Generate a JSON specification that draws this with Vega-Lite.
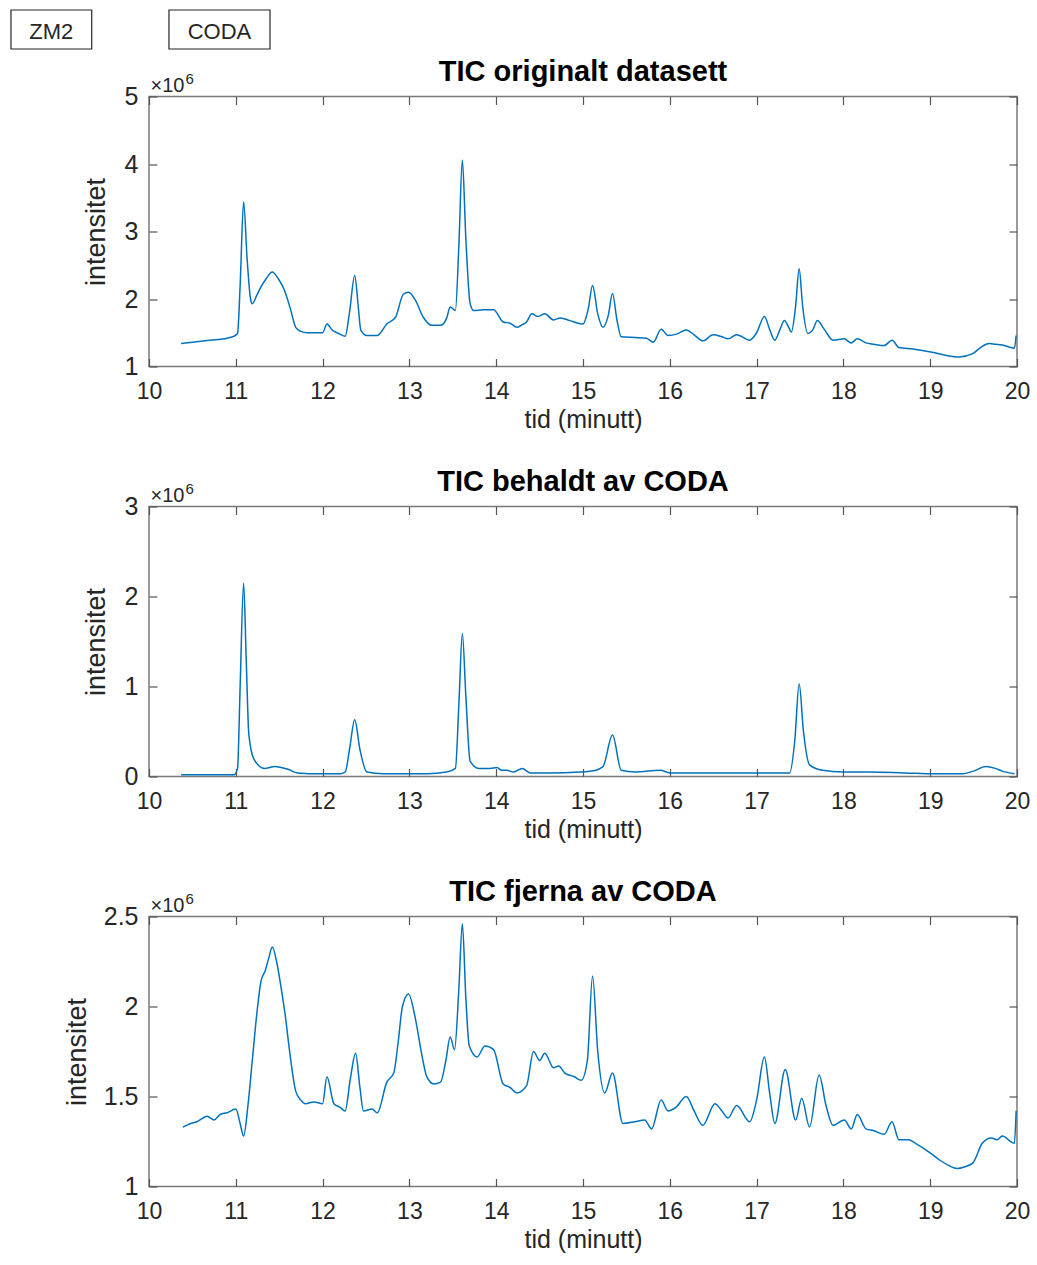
{
  "$schema": "https://vega.github.io/schema/vega-lite/v6.json",
  "background": "white",
  "padding": {"left": 10, "top": 9, "right": 5, "bottom": 5},
  "config": {
    "font": "Liberation Sans",
    "view": {"stroke": "#7a7a7a", "strokeWidth": 1.5},
    "axis": {"domain": false, "grid": false, "tickSize": -8, "tickColor": "#555555", "tickWidth": 1.2,
      "labelColor": "#262626", "titleFontWeight": "normal", "titleColor": "#262626", "labelFont": "Liberation Sans", "titleFont": "Liberation Sans"},
    "axisX": {"labelFontSize": 23, "titleFontSize": 25, "labelPadding": 22, "titlePadding": 4, "labelFlush": false},
    "axisY": {"labelFontSize": 25, "titleFontSize": 27, "labelPadding": 19, "titleX": -53, "titleBaseline": "middle"},
    "title": {"fontSize": 29, "fontWeight": "bold", "color": "#000000", "baseline": "alphabetic", "offset": -15, "font": "Liberation Sans"},
    "line": {"color": "#0072BD", "strokeWidth": 1.5, "interpolate": "monotone"}
  },
  "datasets": {
    "boxes": [
      {"label": "ZM2", "x1": 8.41, "x2": 9.34, "xc": 8.875},
      {"label": "CODA", "x1": 10.23, "x2": 11.394, "xc": 10.812}
    ],
    "orig": [
      {"t":10.37,"i":1.34},{"t":10.5,"i":1.36},{"t":10.7,"i":1.39},{"t":10.9,"i":1.42},{"t":10.98,"i":1.45},{"t":11.02,"i":1.49},{"t":11.05,"i":2.2},{"t":11.09,"i":3.44},{"t":11.13,"i":2.6},{"t":11.17,"i":2.0},{"t":11.19,"i":1.93},{"t":11.24,"i":2.05},{"t":11.29,"i":2.18},{"t":11.35,"i":2.3},{"t":11.42,"i":2.4},{"t":11.49,"i":2.3},{"t":11.56,"i":2.13},{"t":11.63,"i":1.85},{"t":11.69,"i":1.58},{"t":11.75,"i":1.52},{"t":11.82,"i":1.5},{"t":12.0,"i":1.5},{"t":12.05,"i":1.63},{"t":12.11,"i":1.54},{"t":12.2,"i":1.48},{"t":12.26,"i":1.45},{"t":12.31,"i":1.8},{"t":12.37,"i":2.35},{"t":12.41,"i":1.9},{"t":12.44,"i":1.54},{"t":12.51,"i":1.46},{"t":12.63,"i":1.46},{"t":12.74,"i":1.63},{"t":12.84,"i":1.73},{"t":12.93,"i":2.07},{"t":12.99,"i":2.1},{"t":13.07,"i":1.98},{"t":13.16,"i":1.73},{"t":13.26,"i":1.61},{"t":13.36,"i":1.61},{"t":13.43,"i":1.72},{"t":13.47,"i":1.88},{"t":13.53,"i":1.83},{"t":13.57,"i":2.8},{"t":13.61,"i":4.06},{"t":13.65,"i":2.9},{"t":13.7,"i":1.93},{"t":13.74,"i":1.83},{"t":13.85,"i":1.84},{"t":13.97,"i":1.84},{"t":14.08,"i":1.66},{"t":14.16,"i":1.64},{"t":14.24,"i":1.58},{"t":14.3,"i":1.62},{"t":14.35,"i":1.66},{"t":14.41,"i":1.78},{"t":14.48,"i":1.74},{"t":14.56,"i":1.78},{"t":14.66,"i":1.69},{"t":14.74,"i":1.72},{"t":14.85,"i":1.68},{"t":15.0,"i":1.63},{"t":15.06,"i":1.85},{"t":15.11,"i":2.2},{"t":15.17,"i":1.78},{"t":15.23,"i":1.58},{"t":15.29,"i":1.75},{"t":15.34,"i":2.08},{"t":15.39,"i":1.7},{"t":15.44,"i":1.44},{"t":15.6,"i":1.43},{"t":15.73,"i":1.42},{"t":15.81,"i":1.36},{"t":15.9,"i":1.55},{"t":15.98,"i":1.46},{"t":16.08,"i":1.48},{"t":16.19,"i":1.54},{"t":16.28,"i":1.47},{"t":16.38,"i":1.38},{"t":16.5,"i":1.47},{"t":16.6,"i":1.44},{"t":16.67,"i":1.41},{"t":16.77,"i":1.47},{"t":16.92,"i":1.39},{"t":17.0,"i":1.5},{"t":17.09,"i":1.74},{"t":17.15,"i":1.55},{"t":17.21,"i":1.39},{"t":17.27,"i":1.55},{"t":17.32,"i":1.68},{"t":17.37,"i":1.58},{"t":17.4,"i":1.51},{"t":17.45,"i":1.9},{"t":17.49,"i":2.45},{"t":17.53,"i":1.9},{"t":17.59,"i":1.49},{"t":17.65,"i":1.55},{"t":17.7,"i":1.68},{"t":17.78,"i":1.55},{"t":17.88,"i":1.39},{"t":18.01,"i":1.41},{"t":18.09,"i":1.35},{"t":18.16,"i":1.41},{"t":18.26,"i":1.35},{"t":18.35,"i":1.33},{"t":18.47,"i":1.31},{"t":18.56,"i":1.39},{"t":18.64,"i":1.28},{"t":18.8,"i":1.26},{"t":18.99,"i":1.22},{"t":19.1,"i":1.19},{"t":19.2,"i":1.16},{"t":19.33,"i":1.14},{"t":19.49,"i":1.19},{"t":19.58,"i":1.28},{"t":19.68,"i":1.34},{"t":19.75,"i":1.33},{"t":19.83,"i":1.32},{"t":19.97,"i":1.27},{"t":19.99,"i":1.46}
    ],
    "kept": [
      {"t":10.37,"i":0.02},{"t":10.7,"i":0.02},{"t":10.98,"i":0.02},{"t":11.02,"i":0.09},{"t":11.05,"i":1.0},{"t":11.09,"i":2.15},{"t":11.12,"i":1.3},{"t":11.15,"i":0.47},{"t":11.21,"i":0.19},{"t":11.33,"i":0.09},{"t":11.45,"i":0.11},{"t":11.52,"i":0.1},{"t":11.6,"i":0.08},{"t":11.71,"i":0.04},{"t":11.98,"i":0.03},{"t":12.2,"i":0.03},{"t":12.26,"i":0.05},{"t":12.31,"i":0.3},{"t":12.37,"i":0.63},{"t":12.43,"i":0.3},{"t":12.51,"i":0.05},{"t":12.7,"i":0.03},{"t":12.97,"i":0.03},{"t":13.2,"i":0.03},{"t":13.43,"i":0.05},{"t":13.53,"i":0.09},{"t":13.57,"i":0.8},{"t":13.61,"i":1.59},{"t":13.65,"i":0.9},{"t":13.7,"i":0.17},{"t":13.8,"i":0.09},{"t":13.93,"i":0.09},{"t":14.01,"i":0.1},{"t":14.06,"i":0.07},{"t":14.12,"i":0.07},{"t":14.2,"i":0.05},{"t":14.3,"i":0.09},{"t":14.39,"i":0.04},{"t":14.6,"i":0.04},{"t":14.97,"i":0.05},{"t":15.1,"i":0.06},{"t":15.23,"i":0.11},{"t":15.34,"i":0.46},{"t":15.44,"i":0.07},{"t":15.6,"i":0.05},{"t":15.89,"i":0.07},{"t":16.0,"i":0.04},{"t":16.5,"i":0.04},{"t":17.0,"i":0.04},{"t":17.38,"i":0.04},{"t":17.44,"i":0.4},{"t":17.49,"i":1.03},{"t":17.54,"i":0.5},{"t":17.61,"i":0.13},{"t":17.76,"i":0.07},{"t":18.0,"i":0.05},{"t":18.3,"i":0.05},{"t":18.7,"i":0.04},{"t":19.06,"i":0.03},{"t":19.37,"i":0.03},{"t":19.5,"i":0.06},{"t":19.64,"i":0.11},{"t":19.75,"i":0.09},{"t":19.83,"i":0.06},{"t":19.97,"i":0.03}
    ],
    "removed": [
      {"t":10.39,"i":1.33},{"t":10.48,"i":1.35},{"t":10.55,"i":1.36},{"t":10.62,"i":1.38},{"t":10.67,"i":1.39},{"t":10.75,"i":1.37},{"t":10.82,"i":1.4},{"t":10.9,"i":1.41},{"t":11.0,"i":1.43},{"t":11.05,"i":1.35},{"t":11.09,"i":1.28},{"t":11.14,"i":1.45},{"t":11.19,"i":1.7},{"t":11.24,"i":1.95},{"t":11.29,"i":2.14},{"t":11.34,"i":2.2},{"t":11.38,"i":2.27},{"t":11.42,"i":2.33},{"t":11.47,"i":2.25},{"t":11.52,"i":2.11},{"t":11.57,"i":1.95},{"t":11.61,"i":1.79},{"t":11.69,"i":1.53},{"t":11.75,"i":1.48},{"t":11.8,"i":1.46},{"t":11.9,"i":1.47},{"t":12.0,"i":1.46},{"t":12.05,"i":1.61},{"t":12.13,"i":1.46},{"t":12.2,"i":1.44},{"t":12.26,"i":1.42},{"t":12.32,"i":1.6},{"t":12.38,"i":1.74},{"t":12.43,"i":1.55},{"t":12.47,"i":1.42},{"t":12.57,"i":1.43},{"t":12.63,"i":1.41},{"t":12.74,"i":1.58},{"t":12.82,"i":1.63},{"t":12.87,"i":1.8},{"t":12.92,"i":2.0},{"t":12.99,"i":2.07},{"t":13.07,"i":1.93},{"t":13.14,"i":1.74},{"t":13.2,"i":1.61},{"t":13.28,"i":1.57},{"t":13.36,"i":1.58},{"t":13.42,"i":1.7},{"t":13.47,"i":1.83},{"t":13.52,"i":1.76},{"t":13.57,"i":2.1},{"t":13.61,"i":2.46},{"t":13.65,"i":2.05},{"t":13.69,"i":1.78},{"t":13.78,"i":1.72},{"t":13.87,"i":1.78},{"t":13.97,"i":1.76},{"t":14.08,"i":1.57},{"t":14.16,"i":1.55},{"t":14.24,"i":1.52},{"t":14.35,"i":1.56},{"t":14.43,"i":1.75},{"t":14.5,"i":1.7},{"t":14.56,"i":1.74},{"t":14.66,"i":1.66},{"t":14.72,"i":1.67},{"t":14.79,"i":1.63},{"t":14.9,"i":1.61},{"t":14.98,"i":1.59},{"t":15.05,"i":1.7},{"t":15.11,"i":2.17},{"t":15.17,"i":1.75},{"t":15.25,"i":1.52},{"t":15.34,"i":1.63},{"t":15.46,"i":1.35},{"t":15.6,"i":1.36},{"t":15.71,"i":1.37},{"t":15.79,"i":1.32},{"t":15.9,"i":1.48},{"t":15.98,"i":1.42},{"t":16.07,"i":1.44},{"t":16.19,"i":1.5},{"t":16.28,"i":1.42},{"t":16.38,"i":1.34},{"t":16.52,"i":1.46},{"t":16.6,"i":1.42},{"t":16.67,"i":1.38},{"t":16.77,"i":1.45},{"t":16.92,"i":1.36},{"t":17.0,"i":1.48},{"t":17.09,"i":1.72},{"t":17.15,"i":1.52},{"t":17.21,"i":1.35},{"t":17.33,"i":1.65},{"t":17.45,"i":1.37},{"t":17.52,"i":1.49},{"t":17.61,"i":1.33},{"t":17.72,"i":1.62},{"t":17.8,"i":1.45},{"t":17.88,"i":1.34},{"t":18.01,"i":1.37},{"t":18.09,"i":1.32},{"t":18.16,"i":1.4},{"t":18.26,"i":1.32},{"t":18.35,"i":1.31},{"t":18.47,"i":1.29},{"t":18.56,"i":1.36},{"t":18.64,"i":1.26},{"t":18.75,"i":1.26},{"t":18.83,"i":1.24},{"t":18.99,"i":1.19},{"t":19.1,"i":1.15},{"t":19.2,"i":1.12},{"t":19.31,"i":1.1},{"t":19.4,"i":1.11},{"t":19.49,"i":1.13},{"t":19.6,"i":1.24},{"t":19.7,"i":1.27},{"t":19.77,"i":1.26},{"t":19.83,"i":1.28},{"t":19.97,"i":1.24},{"t":19.99,"i":1.42}
    ]
  },
  "bounds": "flush",
  "spacing": 47.5,
  "vconcat": [
    {
      "width": 868,
      "height": 39,
      "view": {"stroke": null},
      "data": {"name": "boxes"},
      "layer": [
        {
          "mark": {"type": "rect", "fill": "white", "stroke": "#262626", "strokeWidth": 1.2, "clip": false},
          "encoding": {
            "x": {"field": "x1", "type": "quantitative", "scale": {"domain": [10, 20], "nice": false, "zero": false}, "axis": null},
            "x2": {"field": "x2"}
          }
        },
        {
          "mark": {"type": "text", "fontSize": 22, "color": "#262626", "font": "Liberation Sans", "clip": false, "dy": 2},
          "encoding": {
            "x": {"field": "xc", "type": "quantitative", "axis": null},
            "text": {"field": "label"}
          }
        }
      ]
    },
    {
      "bounds": "flush",
      "spacing": 140,
      "vconcat": [
        {
          "title": "TIC originalt datasett",
          "width": 868,
          "height": 270,
          "data": {"name": "orig"},
          "layer": [
            {
              "mark": {"type": "line", "clip": true},
              "encoding": {
                "x": {"field": "t", "type": "quantitative", "scale": {"domain": [10, 20], "nice": false, "zero": false}, "axis": {"orient": "bottom", "title": "tid (minutt)", "values": [10,11,12,13,14,15,16,17,18,19,20]}},
                "y": {"field": "i", "type": "quantitative", "scale": {"domain": [1, 5], "nice": false, "zero": false}, "axis": {"orient": "left", "title": "intensitet", "values": [1,2,3,4,5], "format": "~g"}}
              }
            },
            {
              "mark": {"type": "line", "strokeOpacity": 0},
              "encoding": {
                "x": {"field": "t", "type": "quantitative", "axis": {"orient": "top", "labels": false, "title": "×10", "titleFontSize": 20, "titleAnchor": "start", "titleAlign": "left", "titleBaseline": "alphabetic", "titleX": 1, "titleY": -5.5, "values": [10,11,12,13,14,15,16,17,18,19,20]}},
                "y": {"field": "i", "type": "quantitative", "axis": {"orient": "right", "labels": false, "title": "6", "titleFontSize": 15, "titleAngle": 0, "titleAlign": "left", "titleBaseline": "alphabetic", "titleX": -832, "titleY": -13, "values": [1,2,3,4,5]}}
              }
            }
          ],
          "resolve": {"axis": {"x": "independent", "y": "independent"}}
        },
        {
          "title": "TIC behaldt av CODA",
          "width": 868,
          "height": 270,
          "data": {"name": "kept"},
          "layer": [
            {
              "mark": {"type": "line", "clip": true},
              "encoding": {
                "x": {"field": "t", "type": "quantitative", "scale": {"domain": [10, 20], "nice": false, "zero": false}, "axis": {"orient": "bottom", "title": "tid (minutt)", "values": [10,11,12,13,14,15,16,17,18,19,20]}},
                "y": {"field": "i", "type": "quantitative", "scale": {"domain": [0, 3], "nice": false, "zero": false}, "axis": {"orient": "left", "title": "intensitet", "values": [0,1,2,3], "format": "~g"}}
              }
            },
            {
              "mark": {"type": "line", "strokeOpacity": 0},
              "encoding": {
                "x": {"field": "t", "type": "quantitative", "axis": {"orient": "top", "labels": false, "title": "×10", "titleFontSize": 20, "titleAnchor": "start", "titleAlign": "left", "titleBaseline": "alphabetic", "titleX": 1, "titleY": -5.5, "values": [10,11,12,13,14,15,16,17,18,19,20]}},
                "y": {"field": "i", "type": "quantitative", "axis": {"orient": "right", "labels": false, "title": "6", "titleFontSize": 15, "titleAngle": 0, "titleAlign": "left", "titleBaseline": "alphabetic", "titleX": -832, "titleY": -13, "values": [0,1,2,3]}}
              }
            }
          ],
          "resolve": {"axis": {"x": "independent", "y": "independent"}}
        },
        {
          "title": "TIC fjerna av CODA",
          "width": 868,
          "height": 270,
          "data": {"name": "removed"},
          "layer": [
            {
              "mark": {"type": "line", "clip": true},
              "encoding": {
                "x": {"field": "t", "type": "quantitative", "scale": {"domain": [10, 20], "nice": false, "zero": false}, "axis": {"orient": "bottom", "title": "tid (minutt)", "values": [10,11,12,13,14,15,16,17,18,19,20]}},
                "y": {"field": "i", "type": "quantitative", "scale": {"domain": [1, 2.5], "nice": false, "zero": false}, "axis": {"orient": "left", "title": "intensitet", "titleX": -72, "values": [1,1.5,2,2.5], "format": "~g"}}
              }
            },
            {
              "mark": {"type": "line", "strokeOpacity": 0},
              "encoding": {
                "x": {"field": "t", "type": "quantitative", "axis": {"orient": "top", "labels": false, "title": "×10", "titleFontSize": 20, "titleAnchor": "start", "titleAlign": "left", "titleBaseline": "alphabetic", "titleX": 1, "titleY": -5.5, "values": [10,11,12,13,14,15,16,17,18,19,20]}},
                "y": {"field": "i", "type": "quantitative", "axis": {"orient": "right", "labels": false, "title": "6", "titleFontSize": 15, "titleAngle": 0, "titleAlign": "left", "titleBaseline": "alphabetic", "titleX": -832, "titleY": -13, "values": [1,1.5,2,2.5]}}
              }
            }
          ],
          "resolve": {"axis": {"x": "independent", "y": "independent"}}
        }
      ]
    }
  ]
}
